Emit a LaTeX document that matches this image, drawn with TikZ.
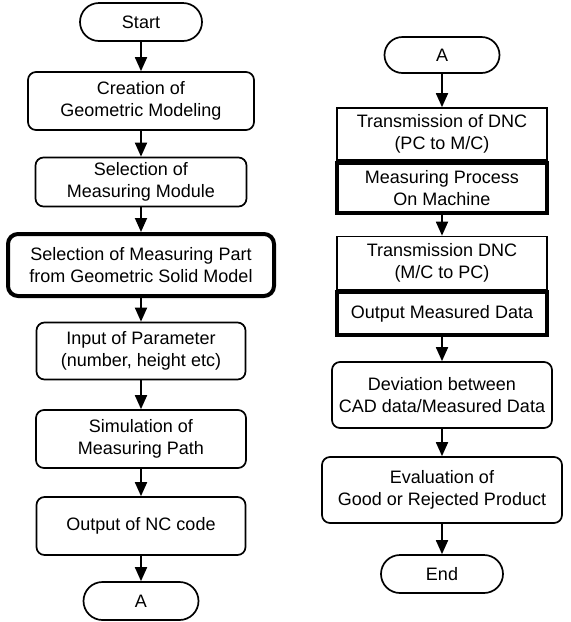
\documentclass[tikz,border=0pt]{standalone}
\usepackage{fontspec}
\setmainfont{Liberation Sans}
\usetikzlibrary{arrows.meta, shapes.misc}

\begin{document}
\begin{tikzpicture}[
		x=1pt, y=-1pt,
		line width=1.7pt,
		every node/.style={font=\fontsize{18}{22}\selectfont, align=center, inner sep=0pt},
		terminal/.style={draw, rounded rectangle, minimum width=122pt, minimum height=38pt},
		process/.style={draw, rounded corners=8pt},
		square box/.style={draw},
		bold/.style={line width=4pt},
		flow/.style={-{Triangle[width=12pt,length=14pt]}, line width=1.8pt}
		]

	\useasboundingbox (0,0) rectangle (571,622);

	% Left column
	\node[terminal] (start) at (141,22) {Start};
	\node[process, minimum width=226pt, minimum height=58pt] (creation) at (141,101) {Creation of\\Geometric Modeling};
	\node[process, minimum width=211pt, minimum height=49pt] (module) at (141,182) {Selection of\\Measuring Module};
	\node[process, bold, rounded corners=10pt, minimum width=266pt, minimum height=62pt] (part) at (141,265) {Selection of Measuring Part\\from Geometric Solid Model};
	\node[process, minimum width=209pt, minimum height=57pt] (param) at (141,351) {Input of Parameter\\(number, height etc)};
	\node[process, minimum width=210pt, minimum height=58pt] (simul) at (141,439) {Simulation of\\Measuring Path};
	\node[process, minimum width=209pt, minimum height=58pt] (nccode) at (141,526) {Output of NC code};
	\node[terminal, minimum width=115pt] (connA) at (141,601) {A};

	\draw[flow] (start) -- (creation);
	\draw[flow] (creation) -- (module);
	\draw[flow] (module) -- (part);
	\draw[flow] (part) -- (param);
	\draw[flow] (param) -- (simul);
	\draw[flow] (simul) -- (nccode);
	\draw[flow] (nccode) -- (connA);

	% Right column
	\node[terminal, minimum width=115pt, minimum height=36pt] (contA) at (442,55) {A};
	\node[square box, minimum width=210pt, minimum height=52pt] (dncout) at (442,134) {Transmission of DNC\\(PC to M/C)};
	\node[square box, bold, minimum width=210pt, minimum height=50pt, anchor=north] (machine) at (dncout.south) {Measuring Process\\On Machine};
	\node[square box, minimum width=210pt, minimum height=53pt] (dncin) at (442,263) {Transmission DNC\\(M/C to PC)};
	\node[square box, bold, minimum width=210pt, minimum height=43pt, anchor=north] (data) at (dncin.south) {Output Measured Data};
	\node[process, minimum width=220pt, minimum height=66pt] (deviation) at (442,395) {Deviation between\\CAD data/Measured Data};
	\node[process, minimum width=240pt, minimum height=66pt] (evaluation) at (442,490) {Evaluation of\\Good or Rejected Product};
	\node[terminal] (end) at (442,574) {End};

	\draw[flow] (contA) -- (dncout);
	\draw[flow] (machine) -- (dncin);
	\draw[flow] (data) -- (deviation);
	\draw[flow] (deviation) -- (evaluation);
	\draw[flow] (evaluation) -- (end);

\end{tikzpicture}
\end{document}
